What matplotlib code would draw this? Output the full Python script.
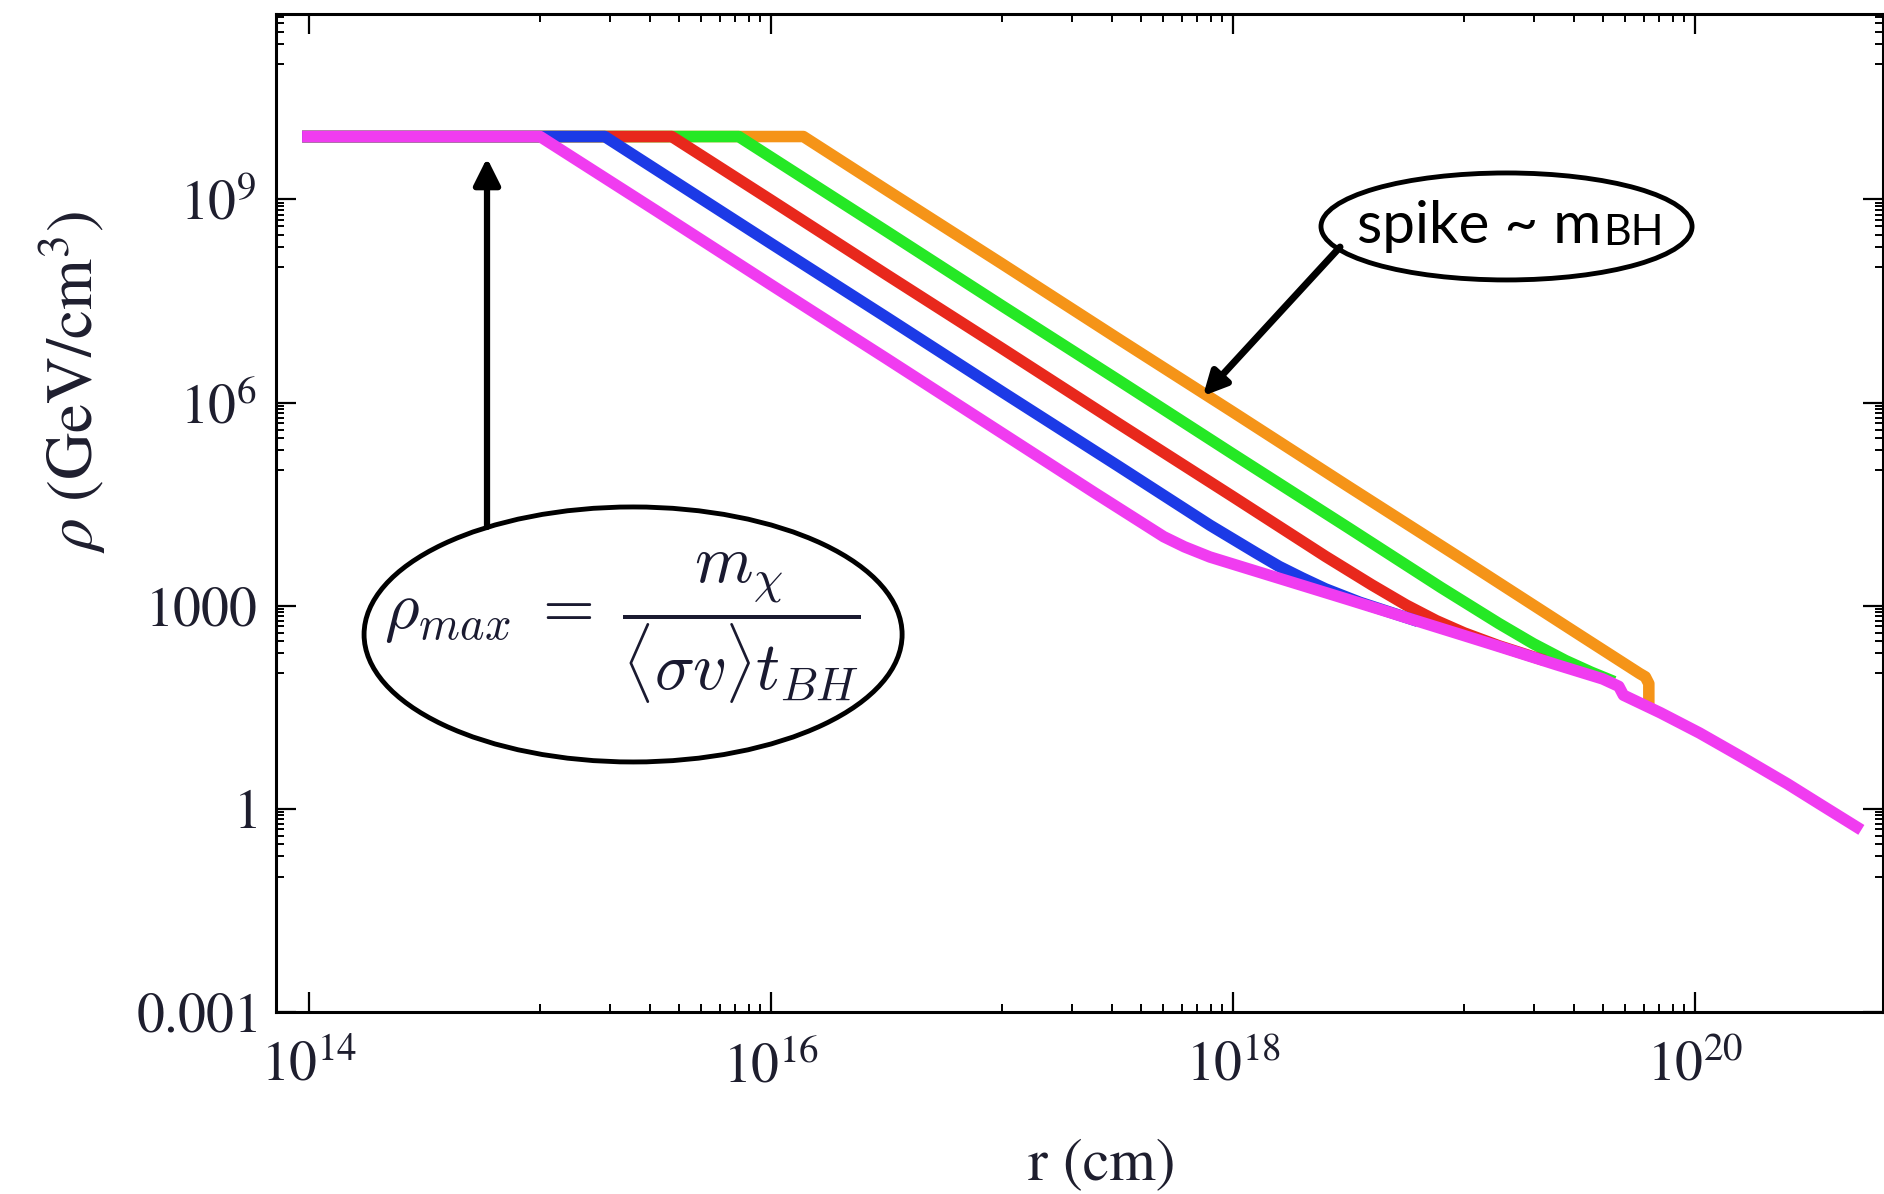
import matplotlib
matplotlib.use('Agg')
import matplotlib.pyplot as plt
import numpy as np
from matplotlib.patches import Ellipse

# curves, as log10(r / cm) and log10(rho / GeV cm^-3)
magenta_lr   = [13.97, 15.00, 15.50, 16.00, 16.50, 17.00, 17.40, 17.70, 17.79, 17.90, 18.10, 18.50, 19.00, 19.15, 19.40, 19.60, 19.67, 19.69, 19.85, 20.02, 20.20, 20.40, 20.55, 20.72]
magenta_lrho = [9.93, 9.93, 8.84, 7.74, 6.65, 5.55, 4.67, 4.02, 3.87, 3.72, 3.51, 3.09, 2.56, 2.40, 2.13, 1.92, 1.81, 1.68, 1.42, 1.12, 0.77, 0.37, 0.05, -0.31]
blue_lr      = [13.97, 15.28, 16.00, 16.50, 17.00, 17.50, 17.90, 18.10, 18.20, 18.30, 18.40, 18.55, 18.80]
blue_lrho    = [9.93, 9.93, 8.35, 7.26, 6.16, 5.07, 4.19, 3.78, 3.58, 3.41, 3.25, 3.05, 2.77]
red_lr       = [13.97, 15.57, 16.00, 16.50, 17.00, 17.50, 18.00, 18.40, 18.60, 18.75, 18.88, 19.00, 19.15, 19.35]
red_lrho     = [9.93, 9.93, 8.99, 7.89, 6.80, 5.70, 4.61, 3.73, 3.31, 3.01, 2.78, 2.60, 2.41, 2.19]
green_lr     = [13.97, 15.86, 16.50, 17.00, 17.50, 18.00, 18.50, 18.90, 19.15, 19.30, 19.44, 19.55, 19.65]
green_lrho   = [9.93, 9.93, 8.53, 7.43, 6.34, 5.24, 4.15, 3.27, 2.74, 2.44, 2.19, 2.02, 1.88]
orange_lr    = [13.97, 16.14, 16.50, 17.00, 17.50, 18.00, 18.50, 19.00, 19.50, 19.76, 19.785, 19.80, 19.80]
orange_lrho  = [9.93, 9.93, 9.14, 8.05, 6.95, 5.86, 4.76, 3.67, 2.57, 2.00, 1.95, 1.85, 1.55]

curve_colors = ['#f59418', '#25e825', '#e8281c', '#1c3ae6', '#f03cf0']

x_major = [1e14, 1e16, 1e18, 1e20]
x_major_labels = [r'$10^{14}$', r'$10^{16}$', r'$10^{18}$', r'$10^{20}$']
y_major = [1e-3, 1, 1e3, 1e6, 1e9]
y_major_labels = ['$0.001$', '$1$', '$1000$', r'$10^{6}$', r'$10^{9}$']

plt.rcParams['font.family'] = 'STIXGeneral'
plt.rcParams['mathtext.fontset'] = 'stix'

fig = plt.figure(figsize=(18.84, 11.94), dpi=100)
ax = fig.add_axes([0.1465, 0.1524, 0.853, 0.8359])

curves = [(orange_lr, orange_lrho), (green_lr, green_lrho), (red_lr, red_lrho),
          (blue_lr, blue_lrho), (magenta_lr, magenta_lrho)]
for (lr, lrho), c in zip(curves, curve_colors):
    ax.plot(10**np.array(lr), 10**np.array(lrho), color=c, lw=8.3,
            solid_joinstyle='round', solid_capstyle='butt')

ax.set_xscale('log')
ax.set_yscale('log')
ax.set_xlim(10**13.857, 10**20.814)
ax.set_ylim(1e-3, 10**11.74)

ax.set_xticks(x_major)
ax.set_xticklabels(x_major_labels)
ax.set_yticks(y_major)
ax.set_yticklabels(y_major_labels)
# minor ticks only in the decade below each major tick (Mathematica style)
ax.set_xticks([m * 10.0**k for k in (15, 17, 19) for m in range(1, 10)], minor=True)
ax.set_yticks([m * 10.0**k for k in (-1, 2, 5, 8, 11) for m in range(1, 10)
               if m * 10.0**k < 10**11.74], minor=True)
ax.tick_params(which='both', direction='in', top=True, right=True, color='black')
ax.tick_params(which='major', length=14.4, width=1.6, labelsize=40, labelcolor='#1e1e2e')
ax.tick_params(which='minor', length=5.5, width=1.4, labelbottom=False, labelleft=False)
ax.tick_params(axis='x', which='major', pad=21)
ax.tick_params(axis='y', which='major', pad=14)
for s in ax.spines.values():
    s.set_linewidth(2.2)

ax.set_xlabel('r (cm)', fontsize=43, color='#1e1e2e', va='center')
ax.xaxis.set_label_coords(0.514, -0.153)
ax.set_ylabel(r'$\rho$ (GeV/cm$^3$)', fontsize=47, color='#1e1e2e', va='center')
ax.yaxis.set_label_coords(-0.127, 0.631)

# rho_max annotation
ax.add_patch(Ellipse((0.2222, 0.3783), 0.3348, 0.2555, transform=ax.transAxes,
                     facecolor='none', edgecolor='black', lw=3.5, zorder=5))
ax.text(0.2153, 0.3848, r'$\rho_{max}\;=\;\dfrac{m_\chi}{\langle\sigma v\rangle t_{BH}}$',
        transform=ax.transAxes, math_fontfamily='cm', fontsize=48, color='#1a1a30',
        ha='center', va='center', zorder=6)
ax.annotate('', xy=(0.1313, 0.8557), xytext=(0.1313, 0.486),
            xycoords='axes fraction', textcoords='axes fraction',
            arrowprops=dict(arrowstyle='-|>,head_length=1.6,head_width=0.8',
                            color='black', lw=4.5, shrinkA=0, shrinkB=0), zorder=6)

# spike annotation
ax.add_patch(Ellipse((0.7657, 0.7871), 0.2309, 0.1072, transform=ax.transAxes,
                     facecolor='none', edgecolor='black', lw=3.5, zorder=5))
t1 = ax.text(0.6727, 0.7705, 'spike ~ m', transform=ax.transAxes, family='Lato',
             fontsize=42, va='baseline', zorder=6)
ax.annotate('BH', xy=(1, 0), xycoords=t1, xytext=(1, 6), textcoords='offset points',
            family='Lato', fontsize=31, va='baseline', zorder=6)
ax.annotate('', xy=(0.5768, 0.6172), xytext=(0.6621, 0.7665),
            xycoords='axes fraction', textcoords='axes fraction',
            arrowprops=dict(arrowstyle='-|>,head_length=1.4,head_width=0.7',
                            color='black', lw=5, shrinkA=0, shrinkB=0), zorder=6)

fig.savefig('out.png', dpi=100)
